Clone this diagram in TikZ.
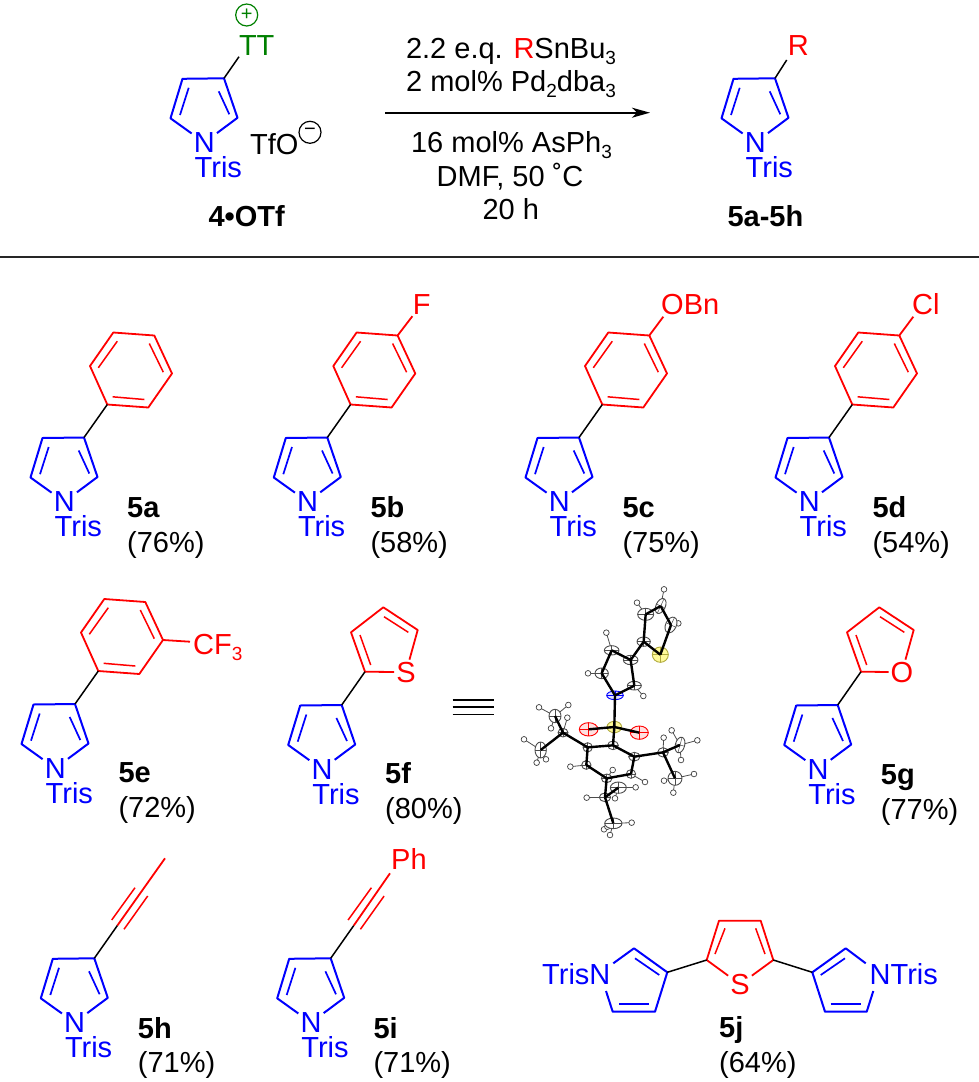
\documentclass[tikz,border=0pt]{standalone}
\usepackage{fontspec}
\setmainfont{Liberation Sans}
\usetikzlibrary{arrows.meta}
\definecolor{tgreen}{RGB}{0,128,0}
\newcommand\lowidx[1]{\raisebox{-6pt}{\fontsize{19}{19}\selectfont #1}}
\tikzset{
  lab/.style={inner sep=0pt,font=\fontsize{29}{32}\selectfont,anchor=base west},
  labc/.style={inner sep=0pt,font=\fontsize{29}{32}\selectfont,anchor=base},
  boldlab/.style={lab,font=\fontsize{29}{32}\bfseries\selectfont},
  blu/.style={text=blue},
  rd/.style={text=red},
  het/.style={inner sep=2pt,font=\fontsize{29}{32}\selectfont,anchor=base},
  bluebond/.style={draw=blue,line width=2pt,line join=round},
  bluein/.style={draw=blue,line width=1.7pt},
  redbond/.style={draw=red,line width=1.8pt,line join=round},
  redin/.style={draw=red,line width=1.5pt},
  wire/.style={draw=black,line width=1.5pt},
  obond/.style={draw=black,line width=2.4pt},
  hbond/.style={draw=black!70,line width=0.8pt},
  hatom/.style={draw=black!75,fill=white,line width=0.7pt},
  charge/.style={circle,draw,inner sep=0pt,minimum size=22pt,line width=1.2pt,font=\fontsize{20}{20}\selectfont},
}
% pyrrole ring: #1 name, #2 x, #3 y of carbon 3
\newcommand\pyr[3]{%
  \begin{scope}[shift={(#2,#3)}]
    \coordinate (#1c3) at (0,0);
    \coordinate (#1c4) at (-41.5,0.5);
    \coordinate (#1c5) at (-53.5,40);
    \coordinate (#1c2) at (13.5,39.5);
    \node[het,blue] (#1N) at (-19.7,74.2) {N};
    \node[lab,blu] (#1T) at (-29.5,99.2) {Tris};
    \draw[bluebond] (#1N) -- (#1c5) -- (#1c4) -- (#1c3) -- (#1c2) -- (#1N);
    \draw[bluein] (-35.3,9.5) -- (-44,36.7);
    \draw[bluein] (-5.3,13) -- (5.3,36);
  \end{scope}}
% phenyl ring attached to pyrrole #1
\newcommand\phen[1]{%
  \begin{scope}[shift={(#1c3)},shift={(23.3,-33)}]
    \coordinate (#1a0) at (0,0);
    \coordinate (#1a1) at (41,3);
    \coordinate (#1a2) at (64.7,-31);
    \coordinate (#1a3) at (47,-69);
    \coordinate (#1a4) at (6,-72);
    \coordinate (#1a5) at (-17.3,-38.5);
    \draw[redbond] (#1a0) -- (#1a1) -- (#1a2) -- (#1a3) -- (#1a4) -- (#1a5) -- cycle;
    \draw[redin] (5.3,-7.7) -- (37,-5);
    \draw[redin] (42,-61) -- (56,-32.3);
    \draw[redin] (10,-63.3) -- (-9,-36.7);
  \end{scope}
  \draw[wire] (#1c3) -- (#1a0);}
% thienyl / furyl: #1 pyrrole name, #2 hetero atom
\newcommand\fivering[2]{%
  \begin{scope}[shift={(#1c3)},shift={(23.3,-33.3)}]
    \coordinate (#1a0) at (0,0);
    \coordinate (#1b1) at (-14,-39.4);
    \coordinate (#1b2) at (18.3,-64.4);
    \coordinate (#1b3) at (52.7,-41.7);
    \node[het,red] (#1X) at (41,10.4) {#2};
    \draw[redbond] (#1X) -- (#1a0) -- (#1b1) -- (#1b2) -- (#1b3) -- (#1X);
    \draw[redin] (5.7,-6.7) -- (-5,-36.7);
    \draw[redin] (19,-55) -- (43.3,-39.4);
  \end{scope}
  \draw[wire] (#1c3) -- (#1a0);}
% alkyne
\newcommand\yne[3]{%
  \begin{scope}[shift={(#1c3)}]
    \coordinate (#1y0) at (23,-32.7);
    \coordinate (#1y1) at (#2,#3);
    \draw[redbond] (#1y0) -- (#1y1);
    \draw[redin] (17.4,-38.3) -- (40.7,-70.6);
    \draw[redin] (29.7,-29) -- (53.4,-62.3);
  \end{scope}
  \draw[wire] (#1c3) -- (#1y0);}
% compound label
\newcommand\cpd[6]{%
  \node[boldlab] (#1lab) at (#3,#4) {#2};
  \node[lab] (#1yld) at (#3,#5) {(#6\%)};}
% ORTEP atoms: name,x,y,rx,ry,rot,outline,fill
\newcommand\atm[8]{%
  \coordinate (o#1) at (#2,#3);
  \begin{scope}[shift={(o#1)},rotate=#6]
    \draw[draw=#7,fill=#8,line width=0.9pt] (0,0) ellipse [x radius=#4,y radius=#5];
    \draw[draw=#7,line width=0.5pt] (-#4,0) -- (#4,0) (0,-#5) -- (0,#5);
  \end{scope}}
\newcommand\hyd[3]{%
  \draw[hbond] (o#3) -- (#1,#2);
  \draw[hatom] (#1,#2) circle [radius=8.5];}
\newcommand\catm[6]{\atm{#1}{#2}{#3}{#4}{#5}{#6}{black!70}{white}}
\begin{document}
\begin{tikzpicture}[x=1pt,y=-1pt]
\useasboundingbox (0,0) rectangle (979,1082);
% ---------- reaction
\pyr{r}{224}{78.3}
\coordinate (rTTb) at (239,56.7);
\draw[wire] (rc3) -- (rTTb);
\node[lab,text=tgreen] (rTT) at (238.8,55) {TT};
\node[charge,draw=tgreen,text=tgreen] (rplus) at (246.7,15) {+};
\node[lab] (rtfo) at (250,154) {TfO};
\node[charge] (rminus) at (310,132.3) {−};
\node[boldlab] (rname) at (208.3,226.7) {4•OTf};
\node[labc] (t1) at (511,58.3) {2.2 e.q. \textcolor{red}{R}SnBu\lowidx{3}};
\node[labc] (t2) at (511,91.7) {2 mol\% Pd\lowidx{2}dba\lowidx{3}};
\coordinate (arrL) at (385,112.7);
\coordinate (arrR) at (650,112.7);
\draw[line width=1.7pt,-{Stealth[length=18pt,width=10pt,inset=5pt]}] (arrL) -- (arrR);
\node[labc] (t3) at (511.5,152.7) {16 mol\% AsPh\lowidx{3}};
\node[labc] (t4) at (510,186) {DMF, 50 ˚C};
\node[labc] (t5) at (510.8,219.3) {20 h};
\pyr{p}{775}{78.3}
\node[labc,red] (pR) at (798.3,55) {R};
\coordinate (pRb) at (786.7,60);
\draw[wire] (pc3) -- (pRb);
\node[boldlab] (pname) at (727.3,226.7) {5a-5h};
\coordinate (ruleL) at (0,256.7);
\coordinate (ruleR) at (979,256.7);
\draw[line width=1.7pt,black!85] (ruleL) -- (ruleR);
% ---------- first row
\pyr{a}{84}{437.5}\phen{a}
\cpd{a}{5a}{127}{517}{552}{76}
\pyr{b}{327.3}{437.5}\phen{b}
\node[het,red] (bF) at (421.7,314) {F};
\draw[redbond] (ba3) -- (bF);
\cpd{b}{5b}{370.3}{517}{552}{58}
\pyr{c}{579}{437.5}\phen{c}
\node[lab,red] (cO) at (661,314) {OBn};
\coordinate (cOb) at (663.3,316.7);
\draw[redbond] (ca3) -- (cOb);
\cpd{c}{5c}{622.3}{517}{552}{75}
\pyr{d}{829}{437.5}\phen{d}
\node[lab,red] (dCl) at (912,314) {Cl};
\coordinate (dClb) at (913.3,316.7);
\draw[redbond] (da3) -- (dClb);
\cpd{d}{5d}{872.3}{517}{552}{54}
% ---------- second row
\pyr{e}{75}{704}\phen{e}
\node[lab,red] (eCF) at (193,654.3) {CF\lowidx{3}};
\coordinate (eCFb) at (190,641.7);
\draw[redbond] (ea2) -- (eCFb);
\cpd{e}{5e}{118.3}{782.7}{817.3}{72}
\pyr{f}{341.7}{705}\fivering{f}{S}
\cpd{f}{5f}{385}{783.3}{818.3}{80}
\coordinate (eq1a) at (452.7,700); \coordinate (eq1b) at (494,700);
\coordinate (eq2a) at (452.7,707); \coordinate (eq2b) at (494,707);
\coordinate (eq3a) at (452.7,714.3); \coordinate (eq3b) at (494,714.3);
\draw[line width=1.6pt] (eq1a) -- (eq1b) (eq2a) -- (eq2b) (eq3a) -- (eq3b);
\pyr{g}{837.7}{705}\fivering{g}{O}
\cpd{g}{5g}{880.7}{784}{819.3}{77}
% ---------- ORTEP
\begin{scope}[shift={(500,570)},x=0.33333pt,y=-0.33333pt]
  \coordinate (oT1) at (437,133); \coordinate (oT2) at (482,108); \coordinate (oT3) at (513,165);
  \coordinate (oP4) at (335,241); \coordinate (oP5) at (305,310); \coordinate (oP2) at (403,347);
  \coordinate (oLM1) at (165,438); \coordinate (oLM2) at (122,540); \coordinate (oLC) at (189,488);
  \coordinate (oRC) at (489,547); \coordinate (oRM1) at (540,525); \coordinate (oRM2) at (525,625);
  \coordinate (oA4) at (259,585); \coordinate (oA5) at (393,612); \coordinate (oA6) at (320,625);
  \coordinate (oPC) at (315,682); \coordinate (oPM1) at (355,653); \coordinate (oPM2) at (340,760);
  \hyd{492}{58}{T2}\hyd{411}{98}{T1}\hyd{535}{160}{T3}\hyd{319}{188}{P4}\hyd{264}{310}{P5}\hyd{430}{378}{P2}
  \hyd{205}{405}{LM1}\hyd{117}{412}{LM1}\hyd{153}{475}{LM1}\hyd{202}{443}{LC}
  \hyd{72}{508}{LM2}\hyd{110}{578}{LM2}\hyd{138}{568}{LM2}
  \hyd{491}{503}{RC}\hyd{515}{481}{RM1}\hyd{592}{511}{RM1}\hyd{543}{570}{RM1}
  \hyd{582}{612}{RM2}\hyd{492}{632}{RM2}\hyd{520}{668}{RM2}
  \hyd{211}{590}{A4}\hyd{435}{636}{A5}\hyd{338}{600}{A6}
  \hyd{407}{652}{PM1}\hyd{345}{685}{PM1}\hyd{260}{683}{PC}
  \hyd{395}{758}{PM2}\hyd{330}{795}{PM2}\hyd{312}{778}{PM2}\hyd{322}{770}{PM2}
  \catm{T1}{437}{133}{24}{18}{0}
  \catm{T2}{482}{108}{14}{24}{-25}
  \catm{T3}{513}{165}{16}{25}{-25}
  \atm{TS}{481}{254}{24}{23}{0}{yellow!65!black}{yellow!40}
  \catm{T4}{431}{215}{20}{14}{0}
  \catm{P3}{392}{270}{22}{14}{0}
  \catm{P4}{335}{241}{22}{14}{0}
  \catm{P5}{305}{310}{20}{16}{0}
  \catm{P2}{403}{347}{21}{13}{0}
  \atm{N}{345}{376}{25}{13}{0}{blue}{blue!12}
  \atm{S}{343}{471}{22}{17}{0}{yellow!65!black}{yellow!40}
  \atm{O1}{266}{478}{28}{20}{0}{red}{red!12}
  \atm{O2}{418}{488}{27}{20}{0}{red}{red!12}
  \catm{A1}{339}{526}{16}{13}{0}
  \catm{A2}{263}{532}{14}{14}{0}
  \catm{A3}{403}{560}{17}{13}{0}
  \catm{A4}{259}{585}{14}{13}{0}
  \catm{A5}{393}{612}{14}{13}{0}
  \catm{A6}{320}{625}{16}{13}{0}
  \catm{LC}{189}{488}{15}{13}{0}
  \catm{LM1}{165}{438}{18}{20}{0}
  \catm{LM2}{122}{540}{17}{24}{0}
  \catm{RC}{489}{547}{16}{14}{0}
  \catm{RM1}{540}{525}{14}{24}{-15}
  \catm{RM2}{525}{625}{21}{21}{0}
  \catm{PC}{315}{682}{17}{13}{0}
  \catm{PM1}{355}{653}{24}{17}{0}
  \catm{PM2}{340}{760}{26}{16}{0}
  \foreach \u/\v in {T4/T1,T1/T2,T2/T3,T3/TS,TS/T4,T4/P3,P3/P4,P4/P5,P5/N,N/P2,P2/P3,N/S,S/O1,S/O2,S/A1,
     A1/A2,A1/A3,A2/A4,A3/A5,A4/A6,A5/A6,A2/LC,LC/LM1,LC/LM2,A3/RC,RC/RM1,RC/RM2,A6/PC,PC/PM1,PC/PM2}
    \draw[obond] (o\u) -- (o\v);
\end{scope}
% ---------- third row
\pyr{h}{94.3}{958.3}\yne{h}{70.7}{-100}
\cpd{h}{5h}{137.7}{1038.3}{1072.3}{71}
\pyr{i}{330.7}{958.3}
\node[lab,red] (iPh) at (391,869) {Ph};
\yne{i}{59.3}{-85}
\cpd{i}{5i}{373.3}{1038.3}{1072.3}{71}
% ---------- 5j
\coordinate (jL) at (706.7,960); \coordinate (jTL) at (719,920.7);
\coordinate (jTR) at (760.7,920.7); \coordinate (jR) at (773.3,960);
\node[het,red] (jS) at (740,994.3) {S};
\draw[redbond] (jS) -- (jL) -- (jTL) -- (jTR) -- (jR) -- (jS);
\draw[redin] (715,954) -- (725,928.3);
\draw[redin] (765,954) -- (755.7,928.3);
\coordinate (l3) at (667.3,972.3); \coordinate (l2) at (634,948.3);
\coordinate (l4) at (655,1011.7); \coordinate (l5) at (612.7,1011.7);
\coordinate (lNa) at (613.3,963.3); \coordinate (lNb) at (606,991);
\node[lab,blu] (lTN) at (542,984) {TrisN};
\draw[bluebond] (lNa) -- (l2) -- (l3) -- (l4) -- (l5) -- (lNb);
\draw[bluein] (659.3,975) -- (635,958.3);
\draw[bluein] (649,1004) -- (619.3,1004);
\coordinate (m3) at (812.3,972.3); \coordinate (m2) at (845.7,948.3);
\coordinate (m4) at (825,1011.7); \coordinate (m5) at (866.7,1011.7);
\coordinate (mNa) at (865.7,963.3); \coordinate (mNb) at (873.3,991);
\node[lab,blu] (mNT) at (869.5,984) {NTris};
\draw[bluebond] (mNa) -- (m2) -- (m3) -- (m4) -- (m5) -- (mNb);
\draw[bluein] (820.7,975) -- (845,958.3);
\draw[bluein] (830.7,1004) -- (860.7,1004);
\draw[wire] (l3) -- (jL);
\draw[wire] (jR) -- (m3);
\cpd{j}{5j}{719}{1037.3}{1072.7}{64}
\end{tikzpicture}
\end{document}
